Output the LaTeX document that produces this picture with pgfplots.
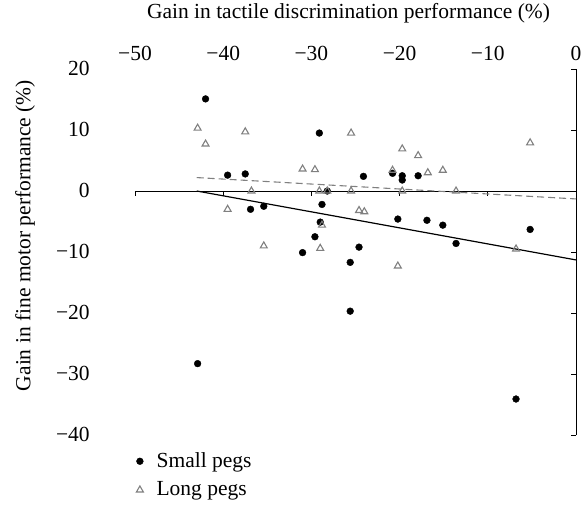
\documentclass[border=0pt]{standalone}
\usepackage{pgfplots}
\pgfplotsset{compat=1.18}
\usepackage{fontspec}
\setmainfont{Liberation Serif}
\definecolor{pegGray}{HTML}{808080}
\begin{document}
\fontsize{21.5bp}{25bp}\selectfont
\begin{tikzpicture}
\begin{axis}[
  scale only axis, width=441bp, height=366bp,
  xmin=-50, xmax=0, ymin=-40, ymax=20,
  clip=false,
  axis line style={draw=none},
  major tick length=0pt,
  xtick={-50,-40,...,0}, ytick={-40,-30,...,20},
  xticklabels={−50,−40,−30,−20,−10,0},
  yticklabels={−40,−30,−20,−10,0,10,20},
  xticklabel pos=upper,
  xticklabel style={anchor=center, yshift=16bp},
  yticklabel style={xshift=-38bp, yshift=1bp},
  xlabel={Gain in tactile discrimination performance (\%)},
  xlabel style={at={(rel axis cs:0.5,1)}, anchor=center, yshift=56bp, xshift=-7bp},
  ylabel={Gain in fine motor performance (\%)},
  ylabel style={at={(rel axis cs:0,0.545)}, anchor=center, yshift=110bp},
  legend style={draw=none, fill=none, at={(rel axis cs:0,0)}, anchor=north west,
    inner sep=0pt, row sep=7bp, yshift=-15bp, legend cell align=left},
  legend image code/.code={\path (0bp,0bp) (19bp,0bp); \draw[#1] plot coordinates {(4.5bp,0bp)};},
]
\coordinate (ll) at (rel axis cs:0,0);
% axis lines at y=0 and x=0
\draw[line width=0.9bp] (axis cs:-50,0) -- (axis cs:0,0);
\draw[line width=0.9bp] (axis cs:0,-40) -- (axis cs:0,20);
\draw[line width=0.9bp] (axis cs:-50,0) -- ([yshift=-5bp]axis cs:-50,0);
\draw[line width=0.9bp] (axis cs:-40,0) -- ([yshift=-5bp]axis cs:-40,0);
\draw[line width=0.9bp] (axis cs:-30,0) -- ([yshift=-5bp]axis cs:-30,0);
\draw[line width=0.9bp] (axis cs:-20,0) -- ([yshift=-5bp]axis cs:-20,0);
\draw[line width=0.9bp] (axis cs:-10,0) -- ([yshift=-5bp]axis cs:-10,0);
\draw[line width=0.9bp] (axis cs:0,20) -- ([xshift=-5bp]axis cs:0,20);
\draw[line width=0.9bp] (axis cs:0,10) -- ([xshift=-5bp]axis cs:0,10);
\draw[line width=0.9bp] (axis cs:0,0) -- ([xshift=-5bp]axis cs:0,0);
\draw[line width=0.9bp] (axis cs:0,-10) -- ([xshift=-5bp]axis cs:0,-10);
\draw[line width=0.9bp] (axis cs:0,-20) -- ([xshift=-5bp]axis cs:0,-20);
\draw[line width=0.9bp] (axis cs:0,-30) -- ([xshift=-5bp]axis cs:0,-30);
\draw[line width=0.9bp] (axis cs:0,-40) -- ([xshift=-5bp]axis cs:0,-40);

% Small pegs
\addplot[only marks, mark=*, mark size=3.4bp, black] coordinates {
(-42.0,15.1) (-39.5,2.6) (-37.5,2.8) (-29.1,9.5) (-36.9,-3.0) (-35.4,-2.5)
(-28.8,-2.2) (-29.0,-5.1) (-29.6,-7.5) (-31.0,-10.1) (-42.9,-28.3) (-25.6,-11.7)
(-25.6,-19.7) (-24.1,2.4) (-20.8,2.9) (-19.7,2.5) (-19.7,1.8) (-17.9,2.5)
(-20.2,-4.6) (-16.9,-4.8) (-15.1,-5.6) (-13.6,-8.6) (-5.2,-6.3) (-24.6,-9.2)
(-6.8,-34.1) (-28.2,0)
};
\addlegendentry{Small pegs}
% Long pegs
\addplot[only marks, mark=triangle, mark size=4bp, pegGray, mark options={line width=1.1bp}] coordinates {
(-42.9,10.3) (-42.0,7.7) (-37.5,9.7) (-31.0,3.6) (-29.6,3.5) (-36.8,0)
(-39.5,-3.0) (-29.1,0) (-28.2,0) (-28.8,-5.6) (-35.4,-9.0) (-29.0,-9.4)
(-25.5,9.5) (-25.5,0) (-19.7,6.9) (-17.9,5.8) (-20.8,3.4) (-16.8,3.0)
(-15.1,3.4) (-5.2,7.9) (-19.7,0) (-13.6,0) (-24.6,-3.2) (-24.0,-3.4)
(-20.2,-12.3) (-6.8,-9.5)
};
\addlegendentry{Long pegs}
% regression lines
\addplot[forget plot, black, line width=1.2bp] coordinates {(-43,0) (0,-11.3)};
\addplot[forget plot, pegGray, line width=1.1bp, dash pattern=on 7bp off 4bp] coordinates {(-43,2.2) (0,-1.3)};
\end{axis}
\pgfresetboundingbox
\path ([shift={(-135bp,-70bp)}]ll) rectangle ++(585bp,505bp);
\end{tikzpicture}
\end{document}
